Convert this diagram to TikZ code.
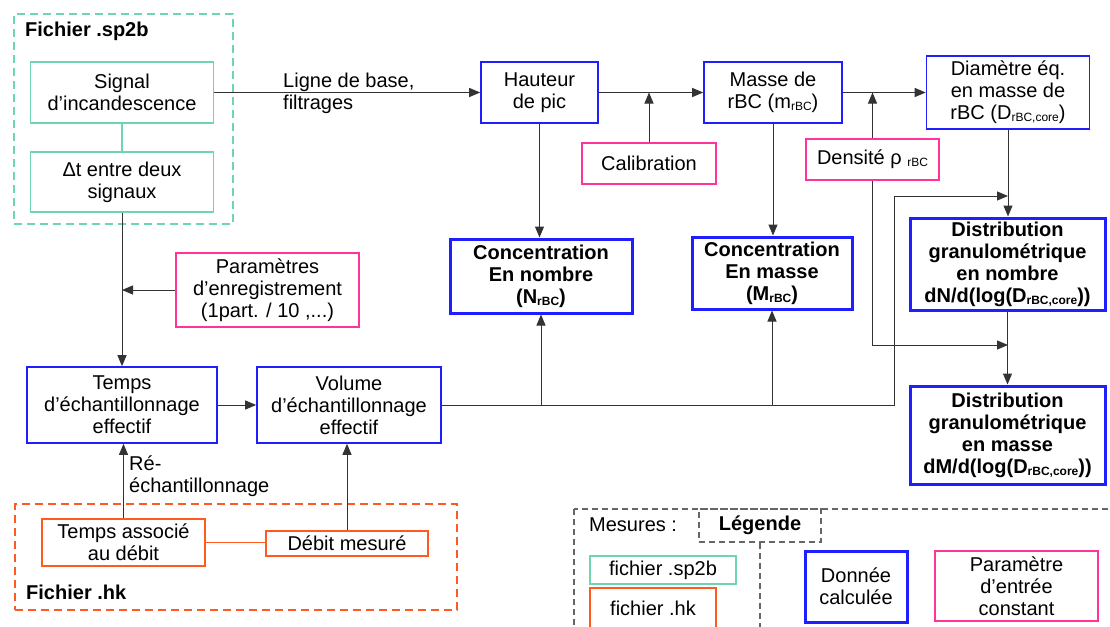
\documentclass[tikz,border=0pt]{standalone}
\usepackage{fontspec}
\setmainfont{Liberation Sans}
\usetikzlibrary{arrows.meta}
\definecolor{sptc}{HTML}{6FD5B0}
\definecolor{hkc}{HTML}{FF5A1F}
\definecolor{calcc}{HTML}{1E1EFF}
\definecolor{constc}{HTML}{FF3399}
\colorlet{linec}{black!80}
\colorlet{legc}{black!60}
\newcommand\diagfont{\fontsize{20}{22}\selectfont}
\newcommand\lowtxt[1]{\raisebox{-2pt}{\fontsize{12}{12}\selectfont #1}}

\begin{document}
\begin{tikzpicture}[x=1pt,y=-1pt,
  box/.style={draw, align=center, inner sep=1pt, font=\diagfont},
  sptbox/.style={box, draw=sptc, line width=1.6pt},
  hkbox/.style={box, draw=hkc, line width=1.6pt},
  calcbox/.style={box, draw=calcc, line width=1.6pt},
  resbox/.style={box, draw=calcc, line width=3pt, font=\diagfont\bfseries},
  constbox/.style={box, draw=constc, line width=1.6pt},
  dashframe/.style={draw, line width=1.8pt, dash pattern=on 8pt off 5pt},
  title/.style={font=\diagfont\bfseries, inner sep=0pt},
  label/.style={font=\diagfont, align=left, inner sep=0pt},
  flow/.style={-{Triangle[length=11pt,width=9pt]}, linec, line width=1pt}]
\useasboundingbox (0,0) rectangle (1110,626);
\clip (0,0) rectangle (1110,626);
\fill[white] (0,0) rectangle (1110,626);

% fichier .sp2b
\node[dashframe, draw=sptc, minimum width=219pt, minimum height=210pt] (sptfile) at (123.5,119) {};
\node[title, anchor=west] (sptname) at (25,31) {Fichier .sp2b};
\node[sptbox, minimum width=183pt, minimum height=61pt] (sig) at (122,92.5) {Signal\\d’incandescence};
\node[sptbox, minimum width=183pt, minimum height=60pt] (dt) at (122,182) {Δt entre deux\\signaux};

% fichier .hk
\node[dashframe, draw=hkc, minimum width=442pt, minimum height=106pt] (hkfile) at (236,557) {};
\node[title, anchor=west] (hkname) at (26,592) {Fichier .hk};
\node[hkbox, minimum width=163pt, minimum height=47pt] (tasso) at (123.5,542.5) {Temps associé\\au débit};
\node[hkbox, minimum width=162pt, minimum height=25pt] (debit) at (347,543.5) {Débit mesuré};

% calculs
\node[calcbox, minimum width=117pt, minimum height=61pt] (hauteur) at (539.5,92.5) {Hauteur\\de pic};
\node[calcbox, minimum width=138pt, minimum height=61pt] (masse) at (773,92.5) {Masse de\\rBC (m\lowtxt{rBC})};
\node[calcbox, minimum width=163pt, minimum height=73pt] (diam) at (1008,92.5) {Diamètre éq.\\en masse de\\rBC (D\lowtxt{rBC,core})};
\node[calcbox, minimum width=190pt, minimum height=76pt] (tech) at (122,405) {Temps\\d’échantillonnage\\effectif};
\node[calcbox, minimum width=184pt, minimum height=76pt] (vol) at (349,405) {Volume\\d’échantillonnage\\effectif};

% parametres
\node[constbox, minimum width=134pt, minimum height=41pt] (calib) at (649,163.5) {Calibration};
\node[constbox, minimum width=133pt, minimum height=41pt] (dens) at (872.5,159.5) {Densité ρ \lowtxt{rBC}};
\node[constbox, minimum width=183pt, minimum height=74pt] (param) at (267.5,290) {Paramètres\\d’enregistrement\\(1part. / 10 ,...)};

% resultats
\node[resbox, minimum width=182pt, minimum height=74pt] (concn) at (541,276) {Concentration\\En nombre\\(N\lowtxt{rBC})};
\node[resbox, minimum width=160pt, minimum height=72pt] (concm) at (772,273) {Concentration\\En masse\\(M\lowtxt{rBC})};
\node[resbox, minimum width=195pt, minimum height=92pt] (distn) at (1007.5,264) {Distribution\\granulométrique\\en nombre\\dN/d(log(D\lowtxt{rBC,core}))};
\node[resbox, minimum width=195pt, minimum height=98pt] (distm) at (1007.5,435) {Distribution\\granulométrique\\en masse\\dM/d(log(D\lowtxt{rBC,core}))};

\coordinate (vturn) at (894,405);
\coordinate (nin) at (1008,196);
\coordinate (min) at (1008,345);

\draw[sptc, line width=1.6pt] (sig.south) -- (dt.north);
\draw[hkc, line width=1.6pt] (tasso.east) -- (tasso.east -| debit.west);
\draw[flow] (sig.east) -- (hauteur.west);
\node[label, anchor=west] (ligne) at (283,93) {Ligne de base,\\filtrages};
\draw[flow] (dt.south) -- (tech.north);
\draw[flow] (param.west) -- (param.west -| dt.south);
\draw[flow] (tasso.north) -- (tasso.north |- tech.south);
\node[label, anchor=west] (reech) at (129,476) {Ré-\\échantillonnage};
\draw[flow] (debit.north) -- (debit.north |- vol.south);
\draw[flow] (tech.east) -- (vol.west);
\draw[flow] (vol.east) -- (vturn) |- (nin);
\draw[flow] (concn.south |- vol.east) -- (concn.south);
\draw[flow] (concm.south |- vol.east) -- (concm.south);
\draw[flow] (hauteur.south) -- (hauteur.south |- concn.north);
\draw[flow] (hauteur.east) -- (masse.west);
\draw[flow] (calib.north) -- (calib.north |- hauteur.east);
\draw[flow] (masse.south) -- (masse.south |- concm.north);
\draw[flow] (masse.east) -- (diam.west);
\draw[flow] (dens.north) -- (dens.north |- masse.east);
\draw[flow] (dens.south) |- (min);
\draw[flow] (diam.south) -- (diam.south |- distn.north);
\draw[flow] (distn.south) -- (distn.south |- distm.north);

% legende
\draw[legc, line width=1.2pt, dash pattern=on 6pt off 4pt] (574,509) rectangle (1140,660);
\node[title, draw=legc, line width=1.2pt, dash pattern=on 6pt off 4pt, minimum width=122pt, minimum height=33pt] (leghead) at (760,525.5) {Légende};
\draw[legc, line width=1.2pt, dash pattern=on 6pt off 4pt] (leghead.south) -- ++(0,120);
\node[label, anchor=west] (mesures) at (589,525) {Mesures :};
\node[sptbox, minimum width=146pt, minimum height=28pt] (lsp2b) at (663,570) {fichier .sp2b};
\node[hkbox, minimum width=126pt, minimum height=40pt] (lhk) at (653,608) {fichier .hk};
\node[resbox, font=\diagfont, minimum width=102pt, minimum height=71pt] (ldonnee) at (856,586.5) {Donnée\\calculée};
\node[constbox, minimum width=163pt, minimum height=70pt] (lparam) at (1016.5,586) {Paramètre\\d’entrée\\constant};
\end{tikzpicture}
\end{document}
